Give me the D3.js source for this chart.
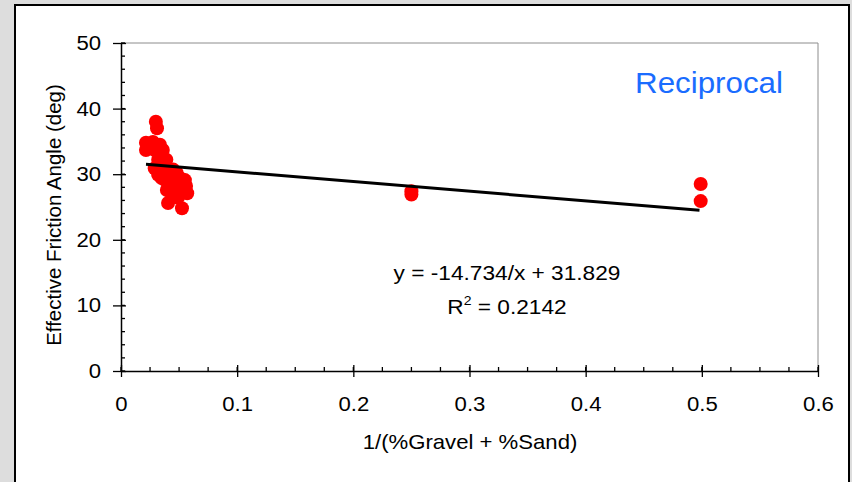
<!DOCTYPE html>
<html>
<head>
<meta charset="utf-8">
<script src="https://cdn.jsdelivr.net/npm/d3@7"></script>
<style>
  html, body { margin: 0; padding: 0; background: #dddddd; }
  svg { display: block; font-family: "Liberation Sans", Arial, sans-serif; }
</style>
</head>
<body>
<svg id="chart" width="852" height="482"></svg>
<script>
// ---- data ----
const xValues = [0.0215, 0.0215, 0.024, 0.030, 0.031, 0.0275, 0.029, 0.0335, 0.036, 0.032,
                 0.029, 0.035, 0.039, 0.035, 0.040, 0.045, 0.048, 0.051, 0.055, 0.056,
                 0.057, 0.051, 0.0465, 0.042, 0.0395, 0.044, 0.049, 0.0405, 0.0525, 0.038,
                 0.032, 0.047, 0.0535, 0.042, 0.25, 0.25, 0.499, 0.499];
const yValues = [34.8, 33.7, 34.3, 38.0, 37.0, 34.9, 33.7, 34.5, 33.7, 32.2,
                 30.9, 31.4, 32.2, 29.4, 30.3, 30.7, 30.2, 29.4, 29.1, 28.2,
                 27.1, 27.6, 28.4, 28.8, 27.6, 26.8, 26.4, 25.6, 24.8, 29.1,
                 29.9, 27.3, 28.5, 29.6, 27.4, 26.9, 28.5, 25.9];
const trendSlope = -14.734;
const trendIntercept = 31.829;
const trendRange = [0.0215, 0.498];
const xTicks = [0, 0.1, 0.2, 0.3, 0.4, 0.5, 0.6];
const yTicks = [0, 10, 20, 30, 40, 50];
const xTickLabels = ["0", "0.1", "0.2", "0.3", "0.4", "0.5", "0.6"];
const yTickLabels = ["0", "10", "20", "30", "40", "50"];
const xTitle = "1/(%Gravel + %Sand)";
const yTitle = "Effective Friction Angle (deg)";
const chartTitle = "Reciprocal";
const equationText = "y = -14.734/x + 31.829";

(function () {
// ---- layout ----
const svg = d3.select("#chart");
const pLeft = 121, pRight = 818, pTop = 43, pBottom = 371;
const FONT = "Liberation Sans, Arial, sans-serif";
const SX = 1.08; // slight horizontal stretch seen in the reference text

svg.append("rect").attr("x", 0).attr("y", 0).attr("width", 852).attr("height", 482).attr("fill", "#dddddd");
svg.append("rect").attr("x", 15).attr("y", 5).attr("width", 834).attr("height", 490)
  .attr("fill", "#ffffff").attr("stroke", "#000").attr("stroke-width", 2);

const x = d3.scaleLinear().domain([0, 0.6]).range([pLeft, pRight]);
const y = d3.scaleLinear().domain([0, 50]).range([pBottom, pTop]);

// plot frame (top / right in gray)
svg.append("line").attr("x1", pLeft).attr("x2", pRight).attr("y1", pTop).attr("y2", pTop)
  .attr("stroke", "#8c8c8c").attr("stroke-width", 1);
svg.append("line").attr("x1", pRight).attr("x2", pRight).attr("y1", pTop).attr("y2", pBottom)
  .attr("stroke", "#8c8c8c").attr("stroke-width", 1);

// minor ticks
const xMinor = d3.range(0, 0.6001, 0.025);
const yMinor = d3.range(0, 50.001, 2);
svg.append("g").selectAll("line").data(xMinor).join("line")
  .attr("x1", d => x(d)).attr("x2", d => x(d)).attr("y1", pBottom).attr("y2", pBottom - 4)
  .attr("stroke", "#000").attr("stroke-width", 1.3);
svg.append("g").selectAll("line").data(yMinor).join("line")
  .attr("x1", pLeft).attr("x2", pLeft + 4).attr("y1", d => y(d)).attr("y2", d => y(d))
  .attr("stroke", "#000").attr("stroke-width", 1.3);

// major axes
const xAxis = d3.axisBottom(x).tickValues(xTicks).tickFormat((d, i) => xTickLabels[i])
  .tickSizeInner(8).tickSizeOuter(0).tickPadding(17);
const gx = svg.append("g").attr("transform", `translate(0,${pBottom})`).call(xAxis);
gx.select(".domain").attr("stroke", "#000").attr("stroke-width", 1.5);
gx.selectAll(".tick line").attr("y1", -6).attr("y2", 6).attr("stroke", "#000").attr("stroke-width", 1.3);
gx.selectAll(".tick text").attr("font-size", 20.5).attr("fill", "#000").attr("font-family", FONT)
  .attr("transform", `scale(${SX},1)`);

const yAxis = d3.axisLeft(y).tickValues(yTicks).tickFormat((d, i) => yTickLabels[i])
  .tickSizeInner(8).tickSizeOuter(0).tickPadding(11);
const gy = svg.append("g").attr("transform", `translate(${pLeft},0)`).call(yAxis);
gy.select(".domain").attr("stroke", "#000").attr("stroke-width", 1.5);
gy.selectAll(".tick line").attr("x1", -8).attr("x2", 5).attr("stroke", "#000").attr("stroke-width", 1.3);
gy.selectAll(".tick text").attr("font-size", 20.5).attr("fill", "#000").attr("font-family", FONT)
  .attr("x", -20 / SX).attr("transform", `scale(${SX},1)`);

// points
const pts = xValues.map((v, i) => [v, yValues[i]]);
svg.append("g").selectAll("circle").data(pts).join("circle")
  .attr("cx", d => x(d[0])).attr("cy", d => y(d[1])).attr("r", 7)
  .attr("fill", "#ff0000");

// trend line
const trend = trendRange.map(v => [v, trendIntercept + trendSlope * v]);
svg.append("path").attr("d", d3.line().x(d => x(d[0])).y(d => y(d[1]))(trend))
  .attr("stroke", "#000").attr("stroke-width", 3).attr("fill", "none");

// helper for horizontally stretched centred text
function hText(cx, cy, size) {
  return svg.append("text").attr("x", 0).attr("y", 0)
    .attr("transform", `translate(${cx},${cy}) scale(${SX},1)`)
    .attr("text-anchor", "middle").attr("font-size", size).attr("font-family", FONT);
}

// titles
hText(470, 449, 20.5).text(xTitle);
svg.append("text").attr("transform", `translate(61,215) rotate(-90)`)
  .attr("text-anchor", "middle").attr("font-size", 20.5).attr("font-family", FONT).text(yTitle);
hText(709, 93, 29).attr("fill", "#1a6cff").text(chartTitle);

// equation
hText(507, 280, 21).text(equationText);
const r2 = hText(507, 314, 21);
r2.append("tspan").text("R");
r2.append("tspan").attr("dy", -9).attr("font-size", 13).text("2");
r2.append("tspan").attr("dy", 9).text(" = 0.2142");
})();
</script>
</body>
</html>
